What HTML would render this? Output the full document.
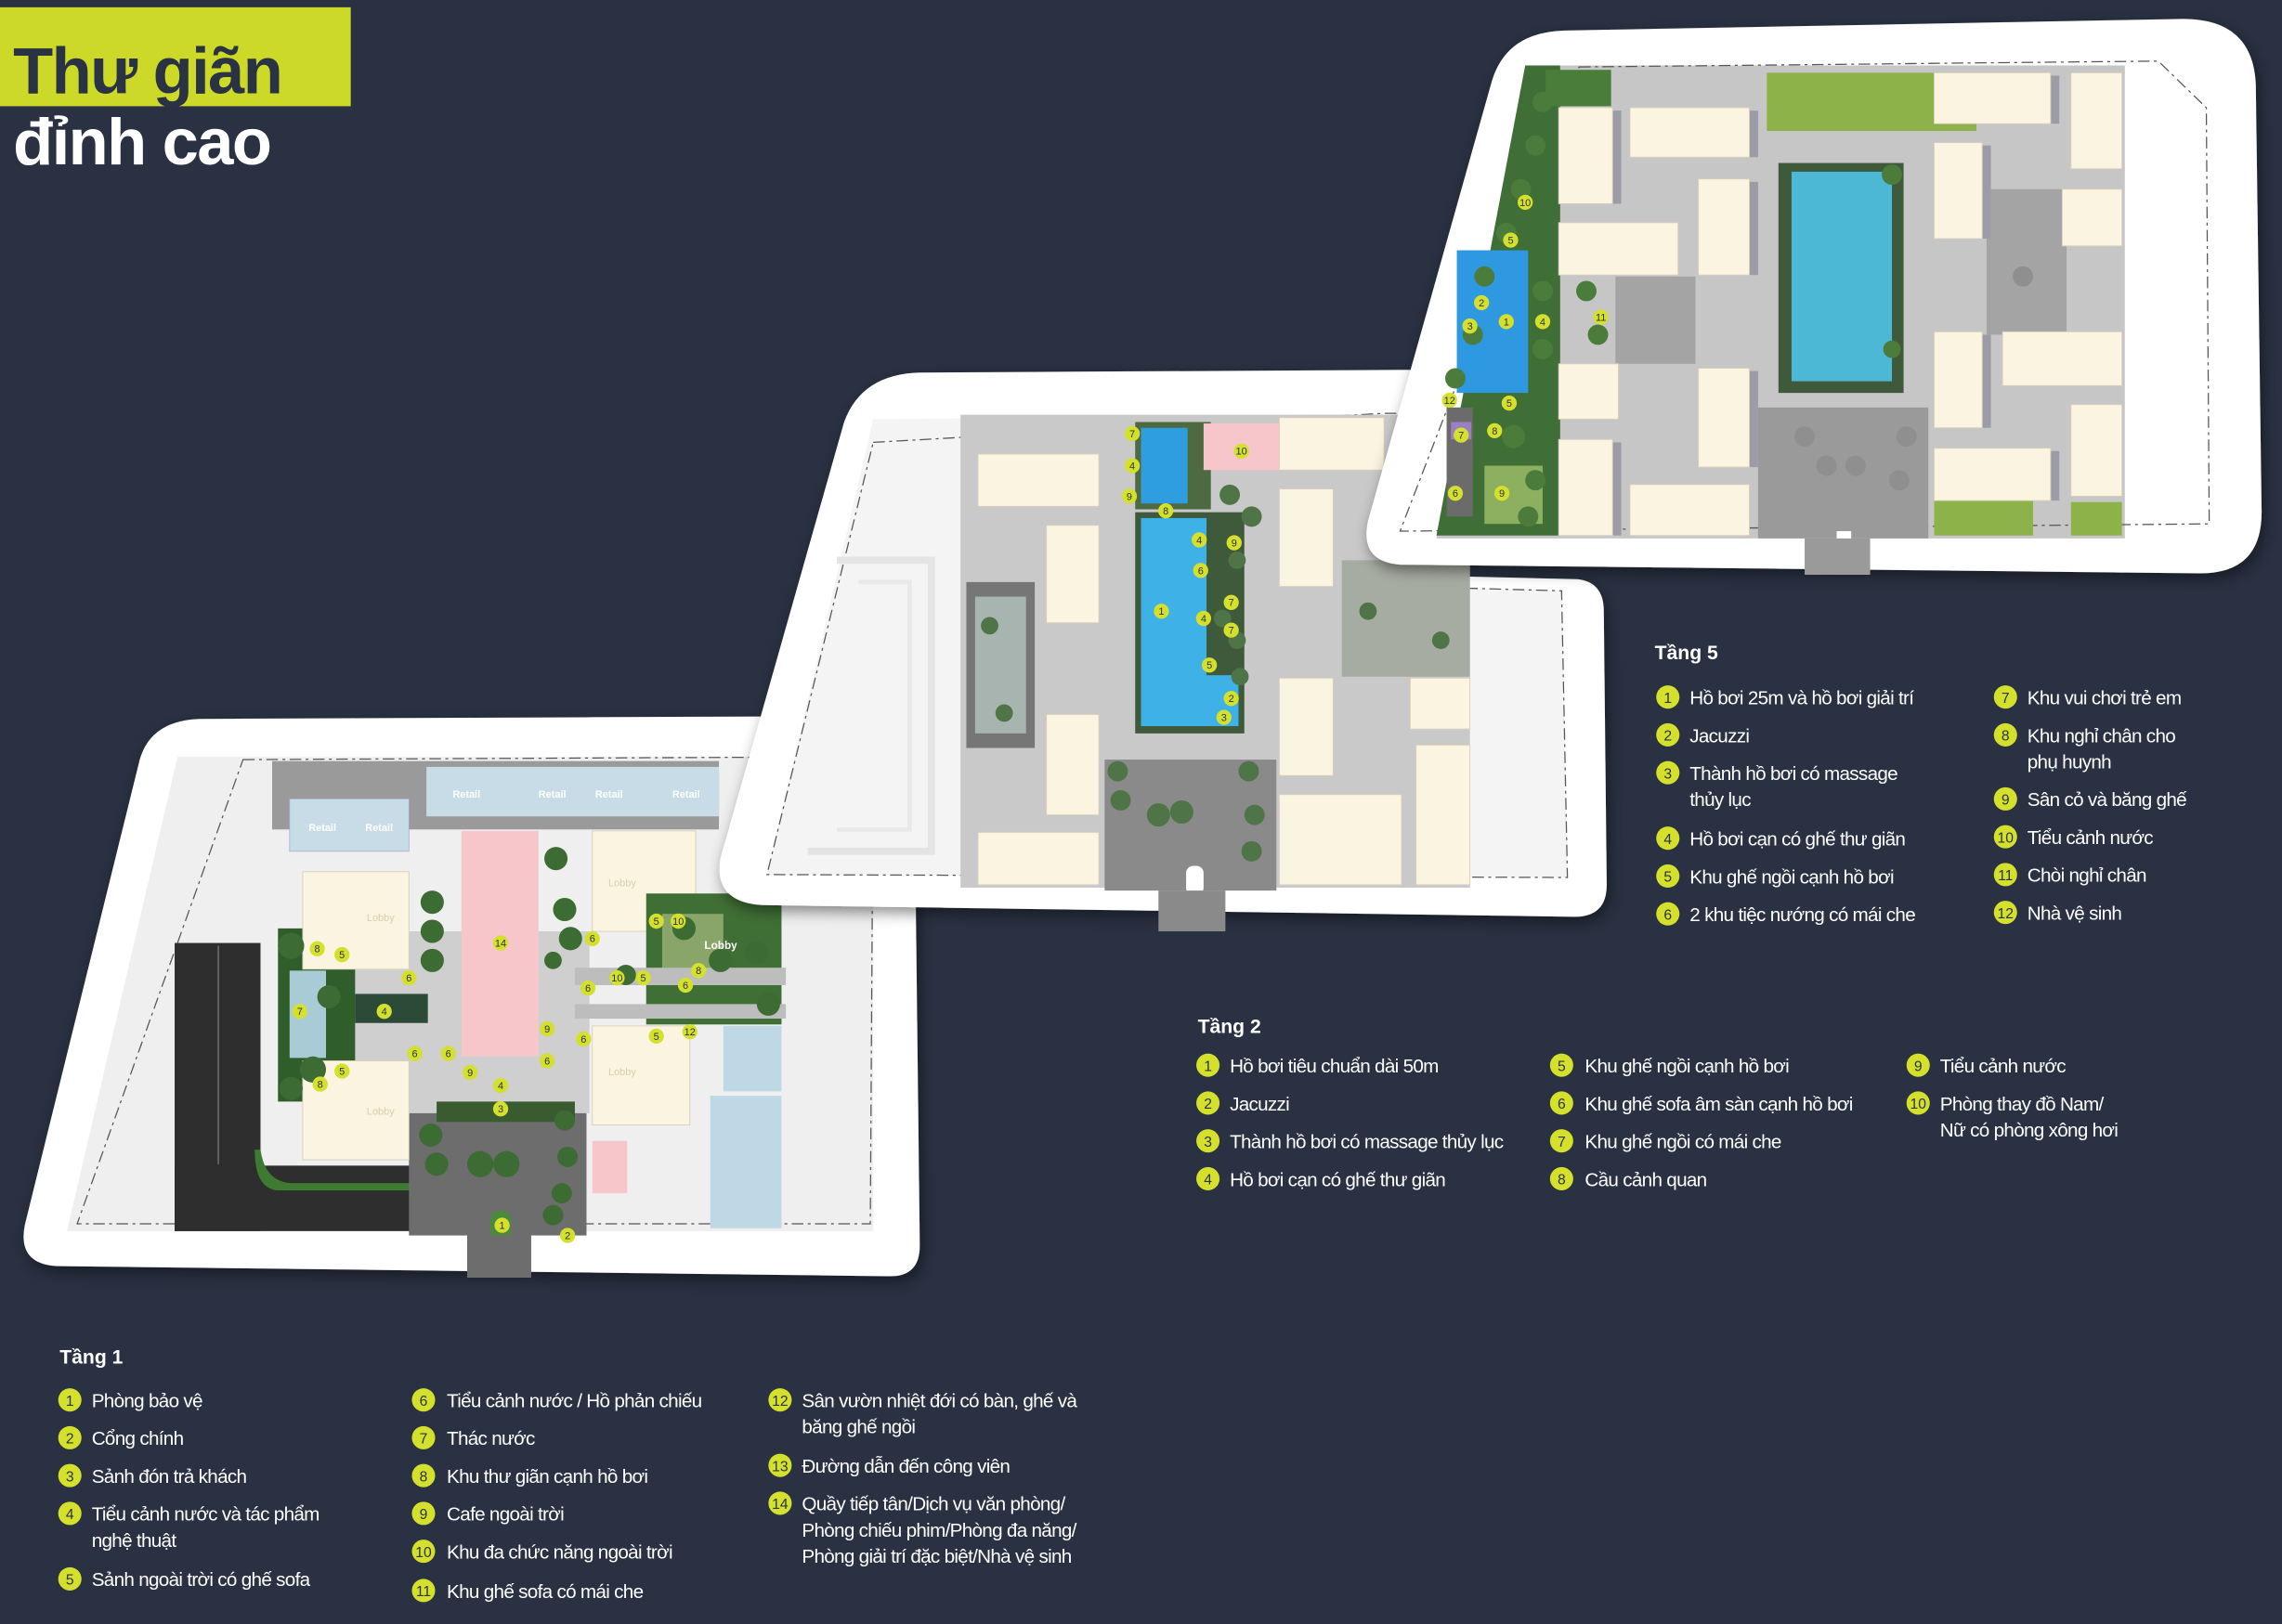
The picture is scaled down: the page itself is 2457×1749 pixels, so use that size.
<!DOCTYPE html>
<html><head><meta charset="utf-8"><style>
html,body{margin:0;padding:0;background:#293142;}
svg{display:block}
text{font-family:"Liberation Sans",sans-serif}
.l{fill:#fff;font-size:13.2px;letter-spacing:-0.45px}
.h{fill:#fff;font-size:13.5px;font-weight:bold}
.n{fill:#2a3344;font-size:10px;text-anchor:middle}
.m{fill:#2a3344;font-size:7px;text-anchor:middle}
.bl{fill:#fbf4e0;stroke:#d8d0bc;stroke-width:.6}
</style></head><body>
<svg width="2457" height="1749" viewBox="0 0 1568 1116" preserveAspectRatio="none" xmlns="http://www.w3.org/2000/svg">
<defs>
<filter id="sh" x="-10%" y="-10%" width="120%" height="120%"><feDropShadow dx="2" dy="4" stdDeviation="5" flood-color="#000" flood-opacity=".45"/></filter>
<g id="mk"><circle r="5.2" fill="#d4e02c"/></g>
</defs>
<rect width="1568" height="1116" fill="#293142"/>

<rect x="0" y="5" width="241" height="68" fill="#cdd928"/>
<text x="9" y="64" style="font-size:45px;font-weight:bold;fill:#2a3344;letter-spacing:-1px">Thư giãn</text>
<text x="9" y="113" style="font-size:45px;font-weight:bold;fill:#fff;letter-spacing:-1px">đỉnh cao</text>

<!-- PLATE 1 -->
<path d="M140,494 L608,492 Q628,492 628,512 L632,856 Q632,878 610,877 L38,870 Q12,868 17,842 L96,522 Q104,494 140,494 Z" fill="#fff" filter="url(#sh)"/>
<polygon points="122,520 600,520 600,846 46,846" fill="#efefef"/>
<polygon points="167,522 600,520 598,841 53,841" fill="none" stroke="#555" stroke-width=".8" stroke-dasharray="8,3,2,3"/>
<rect x="187" y="523" width="307" height="47" fill="#9a9a9a"/>
<rect x="293" y="527" width="201" height="34" fill="#c8dce8"/>
<rect x="199" y="549" width="82" height="36" fill="#c8dce8" stroke="#aac" stroke-width=".5"/>
<g fill="#fff" font-size="7" font-weight="bold"><text x="311" y="548">Retail</text><text x="370" y="548">Retail</text><text x="409" y="548">Retail</text><text x="462" y="548">Retail</text><text x="212" y="571">Retail</text><text x="251" y="571">Retail</text><text x="506" y="729">Retail</text><text x="506" y="800">Retail</text></g>
<rect x="120" y="648" width="59" height="198" fill="#2e2e2e"/>
<rect x="120" y="801" width="165" height="45" fill="#2e2e2e"/>
<line x1="150" y1="650" x2="150" y2="800" stroke="#888" stroke-width=".7"/>
<path d="M179,790 Q182,812 200,813 L285,813 L285,818 L190,818 Q175,816 175,790Z" fill="#3e7a32"/>
<rect x="281" y="763" width="122" height="86" fill="#6d6d6d"/>
<rect x="240" y="640" width="165" height="125" fill="#cfcfcf"/>
<rect x="191" y="638" width="53" height="119" fill="#2f5e2a"/>
<rect x="199" y="667" width="25" height="60" fill="#a9cbd6"/>
<rect x="244" y="683" width="50" height="20" fill="#2c4a38"/>
<rect x="300" y="757" width="95" height="14" fill="#3a5a30"/>
<rect x="317" y="571" width="53" height="155" fill="#f6c6cb"/>
<rect x="208" y="599" width="73" height="67" class="bl"/>
<rect x="208" y="729" width="73" height="68" class="bl"/>
<rect x="407" y="571" width="71" height="69" class="bl"/>
<rect x="407" y="705" width="67" height="68" class="bl"/>
<g fill="#d8cfae" font-size="7"><text x="252" y="633">Lobby</text><text x="252" y="766">Lobby</text><text x="418" y="609">Lobby</text><text x="418" y="739">Lobby</text></g>
<rect x="444" y="614" width="93" height="90" fill="#3f6f35"/>
<rect x="455" y="628" width="42" height="38" fill="#8aa56a"/>
<rect x="395" y="665" width="145" height="12" fill="#bdbdbd"/>
<rect x="395" y="690" width="145" height="10" fill="#bdbdbd"/>
<rect x="497" y="705" width="40" height="45" fill="#bfd8e6"/>
<rect x="488" y="753" width="49" height="91" fill="#bfd8e6"/>
<rect x="407" y="784" width="24" height="36" fill="#f6c6cb"/>
<text x="484" y="652" fill="#fff" font-size="7.5" font-weight="bold">Lobby</text>
<g fill="#3d6b34">
<circle cx="297" cy="620" r="8"/><circle cx="297" cy="640" r="8"/><circle cx="297" cy="660" r="8"/><circle cx="382" cy="590" r="8"/><circle cx="388" cy="625" r="8"/><circle cx="392" cy="645" r="8"/>
<circle cx="200" cy="650" r="9"/><circle cx="226" cy="685" r="8"/><circle cx="215" cy="735" r="9"/><circle cx="200" cy="748" r="8"/>
<circle cx="296" cy="780" r="8"/><circle cx="300" cy="800" r="8"/><circle cx="330" cy="800" r="9"/><circle cx="348" cy="800" r="9"/><circle cx="388" cy="770" r="7"/><circle cx="390" cy="795" r="7"/><circle cx="386" cy="820" r="7"/><circle cx="380" cy="835" r="7"/>
<circle cx="470" cy="638" r="8"/><circle cx="495" cy="660" r="8"/><circle cx="520" cy="655" r="8"/><circle cx="430" cy="670" r="7"/><circle cx="528" cy="690" r="8"/><circle cx="380" cy="660" r="6"/></g>
<rect x="337" y="832" width="14" height="20" rx="6" fill="#4a8a3a"/>
<path d="M321,849 L321,878 L365,878 L365,849" fill="#6d6d6d"/>
<use href="#mk" x="344" y="648"/><text class="m" x="344" y="650.5">14</text>
<use href="#mk" x="218" y="652"/><text class="m" x="218" y="654.5">8</text>
<use href="#mk" x="235" y="656"/><text class="m" x="235" y="658.5">5</text>
<use href="#mk" x="281" y="672"/><text class="m" x="281" y="674.5">6</text>
<use href="#mk" x="206" y="695"/><text class="m" x="206" y="697.5">7</text>
<use href="#mk" x="264" y="695"/><text class="m" x="264" y="697.5">4</text>
<use href="#mk" x="285" y="724"/><text class="m" x="285" y="726.5">6</text>
<use href="#mk" x="308" y="724"/><text class="m" x="308" y="726.5">6</text>
<use href="#mk" x="235" y="736"/><text class="m" x="235" y="738.5">5</text>
<use href="#mk" x="220" y="745"/><text class="m" x="220" y="747.5">8</text>
<use href="#mk" x="323" y="737"/><text class="m" x="323" y="739.5">9</text>
<use href="#mk" x="344" y="746"/><text class="m" x="344" y="748.5">4</text>
<use href="#mk" x="344" y="762"/><text class="m" x="344" y="764.5">3</text>
<use href="#mk" x="376" y="707"/><text class="m" x="376" y="709.5">9</text>
<use href="#mk" x="376" y="729"/><text class="m" x="376" y="731.5">6</text>
<use href="#mk" x="401" y="714"/><text class="m" x="401" y="716.5">6</text>
<use href="#mk" x="407" y="645"/><text class="m" x="407" y="647.5">6</text>
<use href="#mk" x="451" y="633"/><text class="m" x="451" y="635.5">5</text>
<use href="#mk" x="466" y="633"/><text class="m" x="466" y="635.5">10</text>
<use href="#mk" x="404" y="679"/><text class="m" x="404" y="681.5">6</text>
<use href="#mk" x="424" y="672"/><text class="m" x="424" y="674.5">10</text>
<use href="#mk" x="442" y="672"/><text class="m" x="442" y="674.5">5</text>
<use href="#mk" x="480" y="667"/><text class="m" x="480" y="669.5">8</text>
<use href="#mk" x="471" y="677"/><text class="m" x="471" y="679.5">6</text>
<use href="#mk" x="451" y="712"/><text class="m" x="451" y="714.5">5</text>
<use href="#mk" x="474" y="709"/><text class="m" x="474" y="711.5">12</text>
<use href="#mk" x="345" y="842"/><text class="m" x="345" y="844.5">1</text>
<use href="#mk" x="390" y="849"/><text class="m" x="390" y="851.5">2</text>

<!-- PLATE 2 -->
<path d="M632,256 L1000,254 L1000,396 L1084,398 Q1102,400 1102,420 L1104,608 Q1104,630 1082,630 L524,622 Q490,620 495,590 L580,290 Q592,257 632,256 Z" fill="#fff" filter="url(#sh)"/>
<polygon points="600,288 1000,284 1000,404 1073,406 1077,603 527,601" fill="#f4f4f4"/>
<polygon points="600,304 951,284 1000,284 1000,404 1073,406 1077,603 527,601" fill="none" stroke="#555" stroke-width=".8" stroke-dasharray="8,3,2,3"/>
<path d="M575,385 L640,385 L640,585 L555,585" fill="none" stroke="#e4e4e4" stroke-width="5"/>
<path d="M590,400 L625,400 L625,570 L575,570" fill="none" stroke="#e8e8e8" stroke-width="3"/>
<rect x="660" y="285" width="350" height="325" fill="#c9c9c9"/>
<rect x="664" y="400" width="47" height="114" fill="#767676"/>
<rect x="670" y="410" width="35" height="94" fill="#a8b4b0"/>
<rect x="759" y="522" width="118" height="90" fill="#8a8a8a"/>
<rect x="922" y="385" width="88" height="80" fill="#a7aca2"/>
<rect x="780" y="290" width="52" height="60" fill="#4e6a42"/>
<rect x="784" y="294" width="32" height="52" fill="#2f9ee0"/>
<rect x="780" y="352" width="75" height="152" fill="#3f5a3a"/>
<rect x="784" y="356" width="45" height="143" fill="#3eb2e6"/>
<rect x="829" y="464" width="22" height="35" fill="#3eb2e6"/>
<rect x="827" y="291" width="52" height="32" fill="#f6c6cb"/>
<rect x="672" y="312" width="83" height="36" class="bl"/>
<rect x="719" y="361" width="36" height="67" class="bl"/>
<rect x="719" y="491" width="36" height="69" class="bl"/>
<rect x="672" y="572" width="83" height="36" class="bl"/>
<rect x="879" y="287" width="72" height="36" class="bl"/>
<rect x="879" y="336" width="37" height="67" class="bl"/>
<rect x="879" y="466" width="37" height="67" class="bl"/>
<rect x="879" y="546" width="84" height="62" class="bl"/>
<rect x="969" y="466" width="41" height="35" class="bl"/>
<rect x="973" y="512" width="37" height="96" class="bl"/>
<g fill="#4f7447"><circle cx="845" cy="340" r="7"/><circle cx="860" cy="355" r="7"/><circle cx="850" cy="385" r="6"/><circle cx="840" cy="425" r="6"/><circle cx="852" cy="465" r="6"/><circle cx="850" cy="440" r="6"/>
<circle cx="768" cy="530" r="7"/><circle cx="770" cy="550" r="7"/><circle cx="796" cy="560" r="8"/><circle cx="812" cy="558" r="8"/><circle cx="858" cy="530" r="7"/><circle cx="862" cy="560" r="7"/><circle cx="860" cy="585" r="7"/><circle cx="680" cy="430" r="6"/><circle cx="690" cy="490" r="6"/><circle cx="940" cy="420" r="6"/><circle cx="990" cy="440" r="6"/></g>
<rect x="815" y="595" width="12" height="20" rx="5" fill="#fff"/>
<path d="M796,612 L796,640 L842,640 L842,612" fill="#8a8a8a"/>
<use href="#mk" x="778" y="298"/><text class="m" x="778" y="300.5">7</text>
<use href="#mk" x="778" y="320"/><text class="m" x="778" y="322.5">4</text>
<use href="#mk" x="776" y="341"/><text class="m" x="776" y="343.5">9</text>
<use href="#mk" x="801" y="351"/><text class="m" x="801" y="353.5">8</text>
<use href="#mk" x="853" y="310"/><text class="m" x="853" y="312.5">10</text>
<use href="#mk" x="824" y="371"/><text class="m" x="824" y="373.5">4</text>
<use href="#mk" x="848" y="373"/><text class="m" x="848" y="375.5">9</text>
<use href="#mk" x="825" y="392"/><text class="m" x="825" y="394.5">6</text>
<use href="#mk" x="798" y="420"/><text class="m" x="798" y="422.5">1</text>
<use href="#mk" x="846" y="414"/><text class="m" x="846" y="416.5">7</text>
<use href="#mk" x="827" y="425"/><text class="m" x="827" y="427.5">4</text>
<use href="#mk" x="846" y="433"/><text class="m" x="846" y="435.5">7</text>
<use href="#mk" x="831" y="457"/><text class="m" x="831" y="459.5">5</text>
<use href="#mk" x="846" y="480"/><text class="m" x="846" y="482.5">2</text>
<use href="#mk" x="841" y="493"/><text class="m" x="841" y="495.5">3</text>

<!-- PLATE 5 -->
<path d="M1075,21 L1500,13 Q1548,13 1550,58 L1554,352 Q1554,394 1512,394 L962,388 Q934,386 940,358 L1025,56 Q1035,22 1075,21 Z" fill="#fff" filter="url(#sh)"/>
<polygon points="1048,45 1460,45 1460,370 987,370" fill="#c6c6c6"/>
<polygon points="1085,46 1483,42 1516,74 1518,360 962,365" fill="none" stroke="#555" stroke-width=".8" stroke-dasharray="8,3,2,3"/>
<polygon points="1048,45 1072,45 1072,368 987,368" fill="#3f6e36"/>
<rect x="1062" y="48" width="45" height="25" fill="#4a7d3a"/>
<rect x="1001" y="172" width="49" height="98" fill="#2e99e0"/>
<rect x="994" y="280" width="18" height="75" fill="#6b6b6b"/>
<rect x="997" y="290" width="14" height="12" fill="#9b7fc4"/>
<rect x="1020" y="320" width="40" height="40" fill="#8cb060"/>
<rect x="1208" y="280" width="117" height="90" fill="#9a9a9a"/>
<rect x="1222" y="112" width="86" height="158" fill="#3f5a3a"/>
<rect x="1231" y="118" width="69" height="144" fill="#4cb8d6"/>
<rect x="1214" y="50" width="144" height="40" fill="#8db24a"/>
<rect x="1329" y="344" width="68" height="24" fill="#8db24a"/>
<rect x="1423" y="345" width="35" height="23" fill="#8db24a"/>
<rect x="1110" y="190" width="55" height="60" fill="#a4a4a4"/>
<rect x="1365" y="130" width="55" height="100" fill="#a4a4a4"/>
<g fill="#9c9ca6"><rect x="1108" y="76" width="6" height="64"/><rect x="1202" y="76" width="6" height="32"/><rect x="1202" y="125" width="6" height="64"/><rect x="1108" y="304" width="6" height="64"/><rect x="1202" y="255" width="6" height="66"/><rect x="1409" y="52" width="6" height="33"/><rect x="1362" y="100" width="6" height="64"/><rect x="1362" y="230" width="6" height="64"/><rect x="1409" y="310" width="6" height="34"/></g>
<rect x="1071" y="74" width="37" height="66" class="bl"/>
<rect x="1120" y="74" width="82" height="34" class="bl"/>
<rect x="1167" y="123" width="35" height="66" class="bl"/>
<rect x="1071" y="153" width="82" height="36" class="bl"/>
<rect x="1071" y="250" width="41" height="38" class="bl"/>
<rect x="1167" y="253" width="35" height="68" class="bl"/>
<rect x="1071" y="302" width="37" height="66" class="bl"/>
<rect x="1120" y="333" width="82" height="35" class="bl"/>
<rect x="1329" y="50" width="80" height="35" class="bl"/>
<rect x="1423" y="50" width="35" height="66" class="bl"/>
<rect x="1329" y="98" width="33" height="66" class="bl"/>
<rect x="1417" y="130" width="41" height="39" class="bl"/>
<rect x="1329" y="228" width="33" height="66" class="bl"/>
<rect x="1376" y="228" width="82" height="37" class="bl"/>
<rect x="1423" y="278" width="35" height="63" class="bl"/>
<rect x="1329" y="308" width="80" height="36" class="bl"/>
<g fill="#4c7c3c"><circle cx="1060" cy="70" r="7"/><circle cx="1055" cy="100" r="7"/><circle cx="1045" cy="130" r="7"/><circle cx="1035" cy="160" r="7"/><circle cx="1020" cy="190" r="7"/><circle cx="1012" cy="230" r="7"/><circle cx="1000" cy="260" r="7"/><circle cx="1060" cy="200" r="7"/><circle cx="1060" cy="240" r="7"/><circle cx="1090" cy="200" r="7"/><circle cx="1098" cy="230" r="7"/><circle cx="1040" cy="300" r="8"/><circle cx="1055" cy="330" r="7"/><circle cx="1050" cy="355" r="7"/><circle cx="1300" cy="120" r="7"/><circle cx="1300" cy="240" r="6"/></g>
<g fill="#8f8f8f"><circle cx="1240" cy="300" r="7"/><circle cx="1255" cy="320" r="7"/><circle cx="1275" cy="320" r="7"/><circle cx="1310" cy="300" r="7"/><circle cx="1305" cy="330" r="7"/><circle cx="1390" cy="190" r="7"/></g>
<rect x="1262" y="365" width="10" height="15" fill="#fff"/>
<path d="M1240,370 L1240,395 L1285,395 L1285,370" fill="#9a9a9a"/>
<use href="#mk" x="1048" y="139"/><text class="m" x="1048" y="141.5">10</text>
<use href="#mk" x="1038" y="165"/><text class="m" x="1038" y="167.5">5</text>
<use href="#mk" x="1018" y="208"/><text class="m" x="1018" y="210.5">2</text>
<use href="#mk" x="1035" y="221"/><text class="m" x="1035" y="223.5">1</text>
<use href="#mk" x="1010" y="224"/><text class="m" x="1010" y="226.5">3</text>
<use href="#mk" x="1060" y="221"/><text class="m" x="1060" y="223.5">4</text>
<use href="#mk" x="1100" y="218"/><text class="m" x="1100" y="220.5">11</text>
<use href="#mk" x="996" y="275"/><text class="m" x="996" y="277.5">12</text>
<use href="#mk" x="1037" y="277"/><text class="m" x="1037" y="279.5">5</text>
<use href="#mk" x="1004" y="299"/><text class="m" x="1004" y="301.5">7</text>
<use href="#mk" x="1027" y="296"/><text class="m" x="1027" y="298.5">8</text>
<use href="#mk" x="1000" y="339"/><text class="m" x="1000" y="341.5">6</text>
<use href="#mk" x="1032" y="339"/><text class="m" x="1032" y="341.5">9</text>

<!-- LEGEND TANG 5 -->
<text class="h" x="1137" y="453">Tầng 5</text>
<g fill="#d4e02c">
<circle cx="1146" cy="479" r="8"/><circle cx="1146" cy="505" r="8"/><circle cx="1146" cy="531" r="8"/><circle cx="1146" cy="576" r="8"/><circle cx="1146" cy="602" r="8"/><circle cx="1146" cy="628" r="8"/>
<circle cx="1378" cy="479" r="8"/><circle cx="1378" cy="505" r="8"/><circle cx="1378" cy="549" r="8"/><circle cx="1378" cy="575" r="8"/><circle cx="1378" cy="601" r="8"/><circle cx="1378" cy="627" r="8"/>
</g>
<text class="n" x="1146" y="483">1</text><text class="n" x="1146" y="509">2</text><text class="n" x="1146" y="535">3</text><text class="n" x="1146" y="580">4</text><text class="n" x="1146" y="606">5</text><text class="n" x="1146" y="632">6</text>
<text class="n" x="1378" y="483">7</text><text class="n" x="1378" y="509">8</text><text class="n" x="1378" y="553">9</text><text class="n" x="1378" y="579">10</text><text class="n" x="1378" y="605">11</text><text class="n" x="1378" y="631">12</text>
<text class="l" x="1161" y="484">Hồ bơi 25m và hồ bơi giải trí</text>
<text class="l" x="1161" y="510">Jacuzzi</text>
<text class="l" x="1161" y="536">Thành hồ bơi có massage</text>
<text class="l" x="1161" y="554">thủy lục</text>
<text class="l" x="1161" y="581">Hồ bơi cạn có ghế thư giãn</text>
<text class="l" x="1161" y="607">Khu ghế ngồi cạnh hồ bơi</text>
<text class="l" x="1161" y="633">2 khu tiệc nướng có mái che</text>
<text class="l" x="1393" y="484">Khu vui chơi trẻ em</text>
<text class="l" x="1393" y="510">Khu nghỉ chân cho</text>
<text class="l" x="1393" y="528">phụ huynh</text>
<text class="l" x="1393" y="554">Sân cỏ và băng ghế</text>
<text class="l" x="1393" y="580">Tiểu cảnh nước</text>
<text class="l" x="1393" y="606">Chòi nghỉ chân</text>
<text class="l" x="1393" y="632">Nhà vệ sinh</text>

<!-- LEGEND TANG 2 -->
<text class="h" x="823" y="710">Tầng 2</text>
<g fill="#d4e02c">
<circle cx="830" cy="732" r="8"/><circle cx="830" cy="758" r="8"/><circle cx="830" cy="784" r="8"/><circle cx="830" cy="810" r="8"/>
<circle cx="1073" cy="732" r="8"/><circle cx="1073" cy="758" r="8"/><circle cx="1073" cy="784" r="8"/><circle cx="1073" cy="810" r="8"/>
<circle cx="1318" cy="732" r="8"/><circle cx="1318" cy="758" r="8"/>
</g>
<text class="n" x="830" y="736">1</text><text class="n" x="830" y="762">2</text><text class="n" x="830" y="788">3</text><text class="n" x="830" y="814">4</text>
<text class="n" x="1073" y="736">5</text><text class="n" x="1073" y="762">6</text><text class="n" x="1073" y="788">7</text><text class="n" x="1073" y="814">8</text>
<text class="n" x="1318" y="736">9</text><text class="n" x="1318" y="762">10</text>
<text class="l" x="845" y="737">Hồ bơi tiêu chuẩn dài 50m</text>
<text class="l" x="845" y="763">Jacuzzi</text>
<text class="l" x="845" y="789">Thành hồ bơi có massage thủy lục</text>
<text class="l" x="845" y="815">Hồ bơi cạn có ghế thư giãn</text>
<text class="l" x="1089" y="737">Khu ghế ngồi cạnh hồ bơi</text>
<text class="l" x="1089" y="763">Khu ghế sofa âm sàn cạnh hồ bơi</text>
<text class="l" x="1089" y="789">Khu ghế ngồi có mái che</text>
<text class="l" x="1089" y="815">Cầu cảnh quan</text>
<text class="l" x="1333" y="737">Tiểu cảnh nước</text>
<text class="l" x="1333" y="763">Phòng thay đồ Nam/</text>
<text class="l" x="1333" y="781">Nữ có phòng xông hơi</text>

<!-- LEGEND TANG 1 -->
<text class="h" x="41" y="937">Tầng 1</text>
<g fill="#d4e02c">
<circle cx="48" cy="962" r="8"/><circle cx="48" cy="988" r="8"/><circle cx="48" cy="1014" r="8"/><circle cx="48" cy="1040" r="8"/><circle cx="48" cy="1085" r="8"/>
<circle cx="291" cy="962" r="8"/><circle cx="291" cy="988" r="8"/><circle cx="291" cy="1014" r="8"/><circle cx="291" cy="1040" r="8"/><circle cx="291" cy="1066" r="8"/><circle cx="291" cy="1093" r="8"/>
<circle cx="536" cy="962" r="8"/><circle cx="536" cy="1007" r="8"/><circle cx="536" cy="1033" r="8"/>
</g>
<text class="n" x="48" y="966">1</text><text class="n" x="48" y="992">2</text><text class="n" x="48" y="1018">3</text><text class="n" x="48" y="1044">4</text><text class="n" x="48" y="1089">5</text>
<text class="n" x="291" y="966">6</text><text class="n" x="291" y="992">7</text><text class="n" x="291" y="1018">8</text><text class="n" x="291" y="1044">9</text><text class="n" x="291" y="1070">10</text><text class="n" x="291" y="1097">11</text>
<text class="n" x="536" y="966">12</text><text class="n" x="536" y="1011">13</text><text class="n" x="536" y="1037">14</text>
<text class="l" x="63" y="967">Phòng bảo vệ</text>
<text class="l" x="63" y="993">Cổng chính</text>
<text class="l" x="63" y="1019">Sảnh đón trả khách</text>
<text class="l" x="63" y="1045">Tiểu cảnh nước và tác phẩm</text>
<text class="l" x="63" y="1063">nghệ thuật</text>
<text class="l" x="63" y="1090">Sảnh ngoài trời có ghế sofa</text>
<text class="l" x="307" y="967">Tiểu cảnh nước / Hồ phản chiếu</text>
<text class="l" x="307" y="993">Thác nước</text>
<text class="l" x="307" y="1019">Khu thư giãn cạnh hồ bơi</text>
<text class="l" x="307" y="1045">Cafe ngoài trời</text>
<text class="l" x="307" y="1071">Khu đa chức năng ngoài trời</text>
<text class="l" x="307" y="1098">Khu ghế sofa có mái che</text>
<text class="l" x="551" y="967">Sân vườn nhiệt đới có bàn, ghế và</text>
<text class="l" x="551" y="985">băng ghế ngồi</text>
<text class="l" x="551" y="1012">Đường dẫn đến công viên</text>
<text class="l" x="551" y="1038">Quầy tiếp tân/Dịch vụ văn phòng/</text>
<text class="l" x="551" y="1056">Phòng chiếu phim/Phòng đa năng/</text>
<text class="l" x="551" y="1074">Phòng giải trí đặc biệt/Nhà vệ sinh</text>
</svg>
</body></html>
